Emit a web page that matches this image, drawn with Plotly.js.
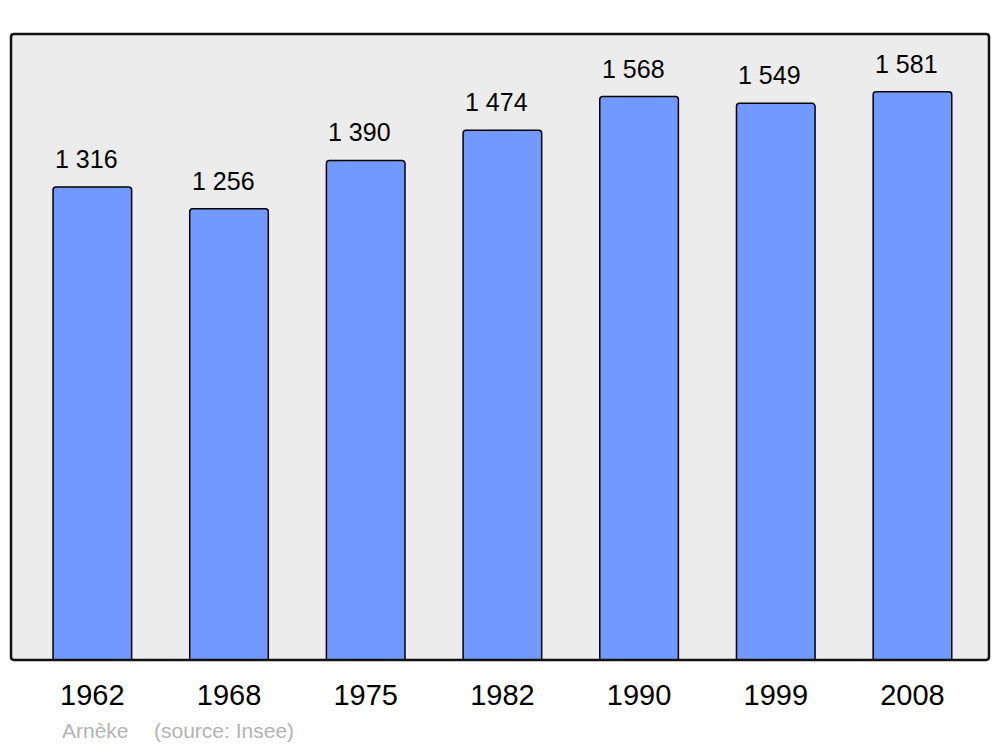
<!DOCTYPE html>
<html><head><meta charset="utf-8">
<script src="https://cdn.plot.ly/plotly-3.0.1.min.js"></script>
<style>html,body{margin:0;padding:0;background:#fff;}#chart{width:1000px;height:747px;}</style>
</head><body><div id="chart"></div>
<script>
const years = ['1962','1968','1975','1982','1990','1999','2008'];
const population = [1316,1256,1390,1474,1568,1549,1581];
const labels = ['1 316','1 256','1 390','1 474','1 568','1 549','1 581'];
const xpos = years.map((_, i) => i);

const trace = {
  type: 'bar', x: xpos, y: population, width: 0.575,
  marker: {color: '#7299ff', line: {color: '#000', width: 1.5}, cornerradius: 3},
  hoverinfo: 'none'
};
const ann = population.map((v, i) => ({
  x: xpos[i], y: v, xref: 'x', yref: 'y', text: labels[i], showarrow: false,
  yanchor: 'middle', yshift: 28, xshift: -6,
  font: {family: 'Liberation Sans, Arial, sans-serif', size: 25, color: '#000'}
}));
const srcFont = {family: 'Liberation Sans, Arial, sans-serif', size: 21, color: '#b3b3b3'};
const extra = [
  {text: 'Arnèke', px: 60},
  {text: '(source: Insee)', px: 152}
];
extra.forEach(e => ann.push({
  x: (e.px - 11) / 978, y: -(730 - 660) / 626, xref: 'paper', yref: 'paper',
  xanchor: 'left', yanchor: 'middle', text: e.text, showarrow: false, font: srcFont
}));

const layout = {
  width: 1000, height: 747,
  margin: {l: 11, r: 11, t: 34, b: 87},
  paper_bgcolor: '#fff', plot_bgcolor: 'rgba(0,0,0,0)',
  showlegend: false,
  xaxis: {
    range: [-0.595, 6.56], tickvals: xpos, ticktext: years,
    showgrid: false, zeroline: false, showline: false, ticks: '',
    tickfont: {family: 'Liberation Sans, Arial, sans-serif', size: 29, color: '#000'},
    ticklabelstandoff: 15, fixedrange: true
  },
  yaxis: {range: [0, 1742], visible: false, showgrid: false, zeroline: false, fixedrange: true},
  shapes: [{
    type: 'path', xref: 'paper', yref: 'paper', layer: 'below',
    path: 'M 0.003,0 L 0.997,0 Q 1,0 1,0.005 L 1,0.995 Q 1,1 0.997,1 L 0.003,1 Q 0,1 0,0.995 L 0,0.005 Q 0,0 0.003,0 Z',
    fillcolor: '#ececec', line: {color: '#000', width: 0}
  }, {
    type: 'path', xref: 'paper', yref: 'paper', layer: 'above',
    path: 'M 0.003,0 L 0.997,0 Q 1,0 1,0.005 L 1,0.995 Q 1,1 0.997,1 L 0.003,1 Q 0,1 0,0.995 L 0,0.005 Q 0,0 0.003,0 Z',
    fillcolor: 'rgba(0,0,0,0)', line: {color: '#111', width: 2.5}
  }],
  annotations: ann,
  font: {family: 'Liberation Sans, Arial, sans-serif'}
};
Plotly.newPlot('chart', [trace], layout, {displayModeBar: false, staticPlot: true});
</script></body></html>
